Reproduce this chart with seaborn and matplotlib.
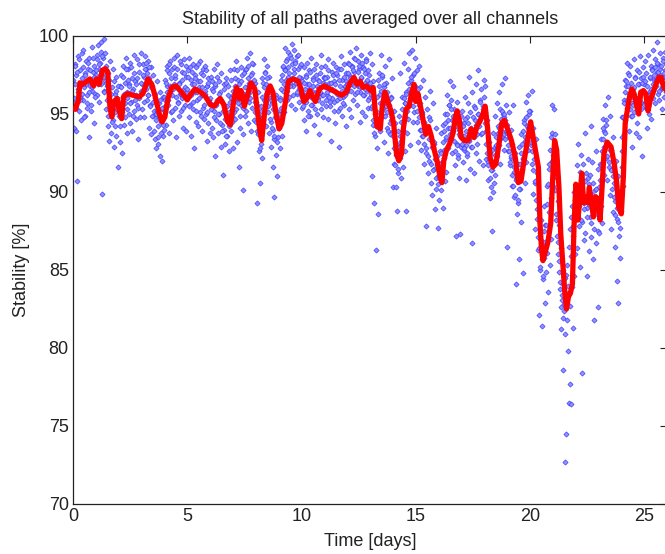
import numpy as np
import pandas as pd
import matplotlib
matplotlib.use("Agg")
import matplotlib.pyplot as plt
import seaborn as sns

# Scatter: stability readings per day (evenly sampled inside each day)
day_values = [
    "95.8 94.1 96.9 98.2 93.9 97.5 90.7 96.4 98.7 95.2 97.8 96.1 94.6 98.9 97.3 95.9 99.1 96.7 94.9 97.6 98.4 96.2 95.4 97.9 93.5 98.6 96.8 97.2 95.6 99.3 96.5 97.7 94.4 98.1 96.3 97.4",
    "97.5 98.8 96.2 99.4 97.9 95.8 98.3 96.9 99.6 89.9 97.4 98.6 96.5 99.8 97.1 95.3 98.1 96.8 94.2 97.6 93.3 96.1 98.4 95.5 93.8 96.7 97.9 94.6 92.9 96.3 95.1 97.4 93.6 96.0 91.6 95.4",
    "94.9 96.8 93.2 97.5 95.4 92.5 96.1 98.1 94.3 97.0 95.7 98.6 93.8 96.4 97.9 95.0 96.9 94.4 98.3 95.8 97.3 93.9 96.6 98.8 95.2 97.1 94.7 96.2 98.5 95.6 93.4 97.7 96.0 94.8 98.9 96.5",
    "96.9 95.3 98.2 97.4 94.8 98.7 96.6 97.9 95.9 98.4 96.2 94.1 97.3 95.6 98.0 93.7 96.8 94.9 97.5 95.2 93.4 96.3 92.8 95.0 97.1 94.2 93.1 95.7 92.3 96.4 94.5 92.0 95.3 93.6 96.1 94.0",
    "95.5 97.2 94.3 96.8 98.1 95.9 97.6 93.8 96.5 98.4 95.1 97.9 96.2 94.6 98.6 96.9 95.4 97.3 93.5 96.7 98.8 95.8 97.0 94.9 96.3 98.2 95.2 97.7 96.0 94.1 98.5 96.6 95.6 97.4 93.9 96.4",
    "96.1 97.8 94.8 98.6 95.6 97.2 93.6 96.9 98.2 95.3 92.8 97.5 96.4 94.5 98.0 95.9 97.1 94.2 96.7 98.4 95.1 97.6 93.9 96.2 95.4 97.9 94.7 96.5 98.1 95.0 93.3 96.8 94.4 97.3 95.7 93.8",
    "95.7 97.4 94.1 96.6 93.5 97.9 95.2 92.3 96.8 94.6 98.2 95.9 93.8 97.1 95.0 96.4 92.9 97.6 94.3 95.8 91.1 96.9 94.0 93.1 95.5 97.3 93.6 94.8 96.2 92.6 95.1 97.8 93.9 96.0 94.5 92.8",
    "96.2 97.9 94.7 96.8 98.4 95.3 93.2 97.2 95.9 91.6 96.5 94.1 98.0 95.6 97.5 93.7 90.1 96.3 94.9 97.8 95.2 98.6 96.7 94.4 97.3 95.8 98.9 96.0 93.9 97.6 95.4 98.2 96.9 94.6 97.0 95.1",
    "95.8 89.3 93.9 96.4 92.6 94.8 90.6 93.1 95.5 92.2 97.3 94.6 98.5 95.9 97.7 96.3 94.2 98.1 96.8 95.1 97.4 93.8 96.0 94.5 92.9 95.7 91.6 94.0 89.7 93.4 95.3 92.4 96.2 91.0 94.7 93.5",
    "94.1 96.0 92.8 95.4 97.2 93.6 96.5 98.0 95.1 97.8 99.2 96.7 98.5 95.9 99.0 97.4 96.1 98.8 97.0 95.6 99.5 98.2 96.8 97.6 99.1 95.3 98.4 97.1 96.3 98.7 97.9 95.8 96.6 98.1 97.3 96.2",
    "95.4 97.1 96.3 94.6 98.0 95.8 97.5 93.9 96.9 98.3 95.2 96.6 97.8 94.9 96.1 98.6 95.6 97.3 96.8 94.3 97.9 95.9 96.4 98.2 95.0 97.2 96.0 93.7 97.6 96.7 95.3 98.8 96.2 97.0 94.8 97.4",
    "96.9 98.1 95.5 97.4 96.2 94.7 98.5 97.0 95.8 96.6 93.3 97.7 96.0 98.3 95.2 97.1 96.5 94.4 98.0 95.9 97.5 96.3 92.9 97.9 95.4 96.8 98.7 94.9 97.2 96.1 95.6 98.2 96.7 94.2 97.6 96.4",
    "96.6 98.3 95.3 97.5 99.0 96.9 94.8 98.1 97.2 95.9 98.6 97.7 96.3 99.2 97.0 95.6 98.4 96.8 97.9 94.5 96.4 98.8 97.3 95.1 96.7 98.0 96.2 97.6 94.9 98.5 96.5 97.1 95.4 97.8 96.0 98.9",
    "96.8 95.4 98.2 91.0 94.3 97.1 89.3 93.6 96.0 86.3 92.8 95.1 88.6 94.7 97.6 93.9 96.3 98.8 95.7 97.4 94.9 96.7 93.2 98.1 95.5 97.0 94.1 96.4 92.5 95.9 98.5 93.7 96.1 94.6 97.3 90.3",
    "93.6 95.2 91.8 94.4 90.3 92.7 88.8 93.9 91.2 94.9 92.2 97.6 90.9 93.3 96.1 91.6 94.0 98.3 92.6 95.7 88.8 96.4 93.8 97.9 94.7 98.9 95.6 93.0 97.2 96.0 99.1 94.5 97.5 95.1 98.6 96.8",
    "96.2 94.5 97.8 93.2 95.6 98.1 94.0 96.7 92.7 95.0 93.6 97.2 91.8 94.4 96.1 92.5 87.8 93.9 95.3 91.2 94.8 92.0 96.5 90.6 93.4 89.8 92.9 95.7 91.5 93.1 88.9 94.1 90.2 92.3 87.7 91.0",
    "91.4 89.5 92.6 90.1 93.8 91.9 89.0 94.3 92.2 90.7 95.0 93.4 91.3 96.2 94.1 92.8 95.6 97.1 93.7 95.9 94.6 92.5 96.8 93.9 95.3 91.7 94.7 87.2 93.1 95.8 92.4 94.0 90.9 93.6 87.3 94.9",
    "93.6 95.2 91.9 94.4 92.7 96.1 93.0 90.8 94.8 92.3 95.7 93.4 97.4 91.5 94.1 92.9 96.4 86.7 93.8 95.5 91.2 94.6 92.5 96.9 93.1 95.0 97.8 94.2 92.0 95.9 93.7 96.6 94.9 91.7 95.3 97.2",
    "95.1 96.8 93.9 92.1 94.6 90.8 91.9 93.2 89.6 92.5 90.3 87.5 91.4 93.8 90.0 92.8 94.9 91.1 93.5 95.7 92.3 94.2 96.4 93.0 95.3 91.8 94.0 96.9 93.6 95.0 92.7 94.8 97.3 93.4 95.6 86.5",
    "94.3 92.6 95.1 93.5 91.7 94.0 92.2 90.4 93.1 95.6 91.3 89.7 92.5 84.1 90.9 88.6 91.8 89.3 92.9 85.7 90.2 93.7 88.1 91.5 84.8 92.1 94.6 90.6 93.3 95.8 91.9 94.2 96.2 92.7 95.0 93.6",
    "95.2 93.0 96.5 91.8 94.1 89.9 92.7 90.6 87.6 93.4 88.9 91.2 86.3 89.5 82.1 87.4 85.0 88.2 81.4 86.6 84.4 89.1 85.8 82.9 87.9 84.9 90.4 86.1 83.6 88.7 91.5 85.3 89.6 87.0 93.8 95.6",
    "90.4 92.8 95.3 93.7 91.5 88.2 90.9 86.8 89.4 85.6 87.9 84.2 81.2 86.4 83.1 78.6 85.0 82.4 72.7 80.9 84.7 74.5 81.8 79.8 83.5 76.5 82.7 77.7 85.9 76.4 83.9 81.3 87.2 84.6 89.5 86.0",
    "88.6 91.7 86.4 90.2 93.1 87.8 89.9 85.2 92.4 88.1 78.4 90.8 86.9 89.3 93.8 87.4 91.2 84.6 89.0 92.1 86.2 90.5 88.4 94.2 87.1 89.6 91.9 85.7 88.9 81.8 90.1 86.7 92.6 89.2 87.5 82.6",
    "90.3 87.4 91.8 89.1 93.4 88.0 92.6 94.7 91.1 93.9 95.6 92.2 94.3 90.8 96.1 93.0 91.6 94.9 89.8 92.7 87.6 91.4 93.5 88.7 90.6 86.5 89.4 92.0 84.3 88.3 91.0 82.9 87.2 89.9 85.8 88.8",
    "92.6 94.8 90.4 95.9 93.7 97.2 94.6 96.8 98.3 95.4 97.6 93.9 96.3 98.1 94.9 97.0 95.7 92.9 96.6 98.5 95.1 97.4 93.8 96.0 94.4 97.8 95.8 93.5 96.9 98.7 95.3 97.3 92.3 96.4 98.0 95.6",
    "96.9 98.4 95.4 97.6 94.1 96.2 98.8 95.0 97.3 96.5 98.1 94.7 97.9 96.0 99.1 97.2 95.7 98.5 96.8 97.7 99.6 96.3 98.2 95.9 97.5 98.9 96.6 97.0 95.3 98.6 97.4 96.1 99.0 97.8 96.4 98.3",
]

# second channel group: denser core readings per day
day_core = [
    "97.2 96.0 98.1 95.4 97.7 96.6 98.5 95.9 97.0 96.3 98.0 94.8 97.5 96.9 95.7 98.3 97.1 96.4 97.8 95.2 96.7 98.6 97.4 96.1",
    "97.8 98.5 96.9 98.2 97.3 99.0 98.7 97.6 96.4 98.9 97.0 95.9 96.6 94.9 97.2 95.6 96.3 94.5 95.8 97.1 94.2 96.5 95.3 96.8",
    "95.6 94.2 96.7 95.1 97.4 96.3 94.8 97.9 96.0 95.3 97.2 96.8 95.7 98.0 96.5 94.9 97.6 95.9 96.9 97.3 95.4 98.2 96.2 97.0",
    "96.4 97.5 95.8 97.9 98.3 96.9 97.6 96.2 98.0 95.5 96.7 94.9 95.8 93.9 96.0 94.6 95.2 93.5 94.8 95.9 93.8 95.4 94.3 96.1",
    "95.9 97.0 96.4 97.8 95.6 98.2 96.8 97.3 95.2 96.6 98.0 97.5 96.1 97.9 95.7 96.9 98.4 96.3 97.2 95.4 97.6 96.7 98.1 96.0",
    "96.6 97.4 95.5 98.0 96.2 97.7 95.8 96.9 97.3 95.2 96.4 98.2 96.0 97.1 94.9 96.7 97.5 95.6 96.3 97.8 95.1 96.8 97.0 95.9",
    "96.0 95.3 97.1 96.5 94.8 96.9 95.6 97.4 95.0 96.3 94.4 95.9 93.9 95.2 96.6 94.7 97.0 93.6 95.5 96.8 94.2 95.8 97.2 94.9",
    "96.5 95.1 97.3 96.0 97.8 95.7 96.9 94.9 97.1 96.3 95.4 97.6 96.7 95.9 97.9 96.2 98.1 97.0 96.4 97.5 98.3 96.8 97.2 95.8",
    "94.5 95.6 93.7 94.9 92.8 95.2 96.1 97.0 96.7 97.6 95.8 96.9 97.3 95.5 96.4 94.7 95.9 94.1 95.3 93.6 94.8 96.0 93.2 95.1",
    "95.0 95.9 96.6 97.5 98.1 96.9 97.8 98.4 97.2 96.5 98.0 97.6 96.8 98.6 97.3 96.2 97.9 98.3 97.0 96.4 98.8 97.4 96.7 98.2",
    "96.1 95.5 97.0 96.6 95.8 97.4 96.3 94.9 96.9 97.7 95.6 96.5 97.2 96.0 95.3 97.5 96.8 95.9 97.1 96.4 98.0 95.7 96.2 97.3",
    "96.7 97.3 95.9 96.4 97.8 96.1 95.5 97.0 96.6 97.5 95.8 96.9 97.6 96.3 95.2 97.2 96.0 97.9 96.5 95.7 97.4 96.8 96.2 97.1",
    "96.9 97.6 98.2 97.3 96.5 98.0 97.8 96.8 98.5 97.1 96.4 97.7 98.1 96.7 97.4 98.3 96.2 97.9 97.0 96.6 98.4 97.2 95.9 97.5",
    "97.0 96.3 95.5 94.6 93.8 95.0 94.2 96.1 97.2 96.8 95.7 96.5 97.5 95.3 96.9 95.8 94.9 96.2 95.1 93.9 95.6 94.4 96.0 94.8",
    "93.9 92.8 91.7 92.4 93.1 91.5 92.9 93.6 94.5 95.3 94.0 96.0 95.7 94.8 96.3 95.2 97.0 96.6 95.9 97.4 96.9 95.5 97.6 96.2",
    "96.0 95.2 96.6 94.8 95.7 94.0 95.1 93.6 94.5 93.1 94.2 92.8 93.9 92.3 93.4 94.6 91.8 92.9 91.4 93.2 92.1 90.9 91.7 90.5",
    "90.9 91.8 92.5 91.2 93.2 92.7 93.9 94.4 93.5 95.0 94.6 95.6 94.1 95.3 93.8 94.9 93.3 92.6 94.2 93.0 92.2 93.7 94.5 92.9",
    "93.1 94.2 92.8 93.6 94.7 93.9 92.5 94.4 93.3 95.1 94.0 92.9 94.8 93.5 95.4 94.3 93.7 95.0 94.6 95.8 94.9 93.8 95.5 96.1",
    "95.2 94.4 93.1 92.5 91.7 92.2 90.9 91.4 92.7 91.9 90.6 92.4 93.0 92.8 93.8 94.1 93.4 94.7 95.2 94.3 93.7 95.0 94.6 93.9",
    "93.8 93.0 92.6 91.9 92.3 91.1 90.4 91.6 89.8 90.8 91.3 89.5 90.2 91.8 92.5 93.1 92.2 93.9 94.4 93.5 94.8 93.3 94.1 95.2",
    "94.0 93.2 92.6 91.4 92.1 90.7 89.5 88.3 87.1 86.4 85.2 86.9 85.7 84.6 86.2 87.5 86.8 87.9 89.2 90.5 91.8 92.7 93.5 92.0",
    "92.4 91.0 90.1 88.6 87.2 86.0 84.9 83.8 82.6 83.4 84.1 81.9 82.8 84.5 83.2 85.3 84.0 86.5 87.6 88.4 89.1 87.8 90.0 88.9",
    "89.8 88.7 90.4 89.1 91.3 88.2 90.0 89.4 91.8 88.9 90.7 89.6 88.4 90.9 89.2 91.1 88.0 89.9 90.6 87.6 89.3 90.2 88.6 91.5",
    "89.2 90.8 91.7 92.6 93.4 94.1 92.9 93.8 94.6 92.3 93.1 91.9 92.7 91.4 90.2 91.0 89.7 88.5 90.4 89.0 88.1 89.5 87.7 89.8",
    "91.6 93.5 94.8 95.7 96.4 97.1 95.9 96.8 97.5 95.3 96.1 94.9 95.6 96.7 97.3 96.0 95.4 96.9 97.7 96.3 95.8 97.0 96.5 97.4",
    "96.4 97.1 95.8 96.8 95.5 96.2 97.4 96.6 97.8 96.9 97.5 98.0 97.2 98.3 97.7 96.5 97.9 98.1 97.3 96.7 98.4 97.6 97.0 98.2",
]

# Red line: running average
avg_time = [0.1, 0.24, 0.3, 0.44, 0.6, 0.74, 0.9, 1.03, 1.15, 1.28, 1.42, 1.52, 1.62, 1.7, 1.79,
            1.93, 2.04, 2.13, 2.21, 2.38, 2.64, 2.89, 3.06, 3.28, 3.45, 3.6, 3.78, 3.9, 4.02, 4.16,
            4.32, 4.5, 4.75, 5.0, 5.17, 5.34, 5.59, 5.81, 6.01, 6.18, 6.44, 6.6, 6.77, 6.89, 7.03,
            7.16, 7.28, 7.36, 7.5, 7.62, 7.79, 7.96, 8.07, 8.18, 8.26, 8.38, 8.51, 8.63, 8.75, 8.89,
            9.02, 9.14, 9.31, 9.43, 9.65, 9.86, 9.98, 10.1, 10.24, 10.37, 10.49, 10.61, 10.78, 11.0,
            11.25, 11.5, 11.76, 11.96, 12.13, 12.3, 12.43, 12.57, 12.69, 12.85, 13.02, 13.14, 13.24,
            13.31, 13.45, 13.53, 13.65, 13.78, 13.92, 14.04, 14.16, 14.26, 14.38, 14.46, 14.58,
            14.71, 14.83, 14.93, 15.0, 15.1, 15.22, 15.34, 15.44, 15.56, 15.68, 15.81, 15.95, 16.06,
            16.15, 16.23, 16.35, 16.49, 16.62, 16.74, 16.82, 16.91, 16.99, 17.13, 17.3, 17.42, 17.55,
            17.68, 17.8, 17.92, 18.04, 18.14, 18.26, 18.38, 18.51, 18.65, 18.76, 18.88, 19.02, 19.19,
            19.36, 19.49, 19.61, 19.7, 19.86, 20.03, 20.12, 20.24, 20.37, 20.44, 20.51, 20.57, 20.68,
            20.79, 20.91, 21.0, 21.08, 21.17, 21.27, 21.35, 21.44, 21.52, 21.6, 21.69, 21.77, 21.86,
            21.93, 22.01, 22.1, 22.18, 22.27, 22.35, 22.45, 22.54, 22.6, 22.78, 22.88, 23.0, 23.07,
            23.15, 23.24, 23.38, 23.55, 23.69, 23.79, 23.89, 24.0, 24.09, 24.17, 24.26, 24.36, 24.46,
            24.56, 24.68, 24.76, 24.85, 24.97, 25.07, 25.17, 25.27, 25.4, 25.52, 25.64, 25.74, 25.86,
            25.98]
avg_value = [95.3, 95.9, 97.0, 96.9, 97.1, 97.25, 96.8, 97.25, 96.9, 97.8, 97.9, 97.7, 95.4, 94.8, 95.8,
             96.0, 95.1, 94.7, 96.1, 96.3, 96.2, 96.1, 96.3, 97.25, 96.9, 96.1, 95.0, 94.5, 94.8, 96.0,
             96.7, 96.8, 96.4, 95.9, 96.3, 96.6, 96.4, 96.1, 95.6, 95.5, 96.0, 95.6, 94.5, 94.3, 95.8,
             96.7, 96.0, 96.5, 95.5, 96.1, 97.0, 96.6, 95.2, 93.9, 93.3, 95.0, 96.4, 96.8, 96.4, 95.0,
             94.05, 94.4, 95.9, 97.1, 97.25, 97.1, 96.6, 95.8, 96.0, 96.5, 96.1, 95.8, 96.6, 96.8,
             96.6, 96.4, 96.2, 96.4, 97.0, 97.35, 96.9, 97.1, 96.7, 96.8, 96.5, 96.7, 95.0,
             94.2, 94.05, 95.4, 96.4, 95.8, 95.2, 94.3, 92.45, 92.0, 92.45, 94.05, 95.3,
             95.5, 96.4, 96.9, 95.8, 96.3, 95.4, 94.5, 93.7, 94.2, 93.6, 92.7, 91.9, 91.0,
             90.6, 92.0, 92.7, 93.1, 93.7, 94.8, 95.2, 94.6, 93.5, 93.3, 93.3, 94.05, 93.5,
             94.2, 94.5, 94.9, 95.5, 94.2, 92.2, 91.6, 91.8, 93.1, 94.4, 94.6, 94.05, 93.3,
             92.2, 90.6, 90.7, 91.6, 93.0, 94.5, 93.7, 92.7, 91.6, 88.0, 86.3, 85.6, 86.2,
             86.8, 88.0, 91.0, 93.3, 92.7, 90.3, 87.3, 85.4, 83.7, 82.5, 83.3, 83.5, 84.1,
             87.8, 90.5, 88.2, 89.5, 91.2, 89.3, 89.7, 89.3, 90.3, 88.4, 89.7, 89.5, 88.2,
             90.1, 92.45, 93.2, 92.9, 91.8, 90.7, 89.0, 88.6, 91.0, 94.4, 95.2, 96.1, 96.6,
             96.3, 95.5, 95.0, 96.4, 96.5, 96.3, 95.2, 95.9, 96.4, 96.9, 97.35, 97.35, 96.7,
             96.5]


def day_frame(groups, offset):
    rows = []
    for d, s in enumerate(groups):
        vals = [float(v) for v in s.split()]
        n = len(vals)
        for k, v in enumerate(vals):
            rows.append({"time": d + (k + offset) / n, "stability": v})
    return pd.DataFrame(rows)


pts = pd.concat([day_frame(day_values, 0.5), day_frame(day_core, 0.25)], ignore_index=True)
avg = pd.DataFrame({"time": avg_time, "stability": avg_value})

sns.set_style("white")
plt.rcParams["font.family"] = ["Liberation Sans", "DejaVu Sans"]

fig = plt.figure(figsize=(6.65, 5.54), dpi=100)
ax = fig.add_axes([73 / 665, 50 / 554, 594 / 665, 468 / 554])

sns.scatterplot(data=pts, x="time", y="stability", ax=ax, marker="D", s=7,
                color="#9090ff", edgecolor="#3535ff", linewidth=0.45, zorder=2)
sns.lineplot(data=avg, x="time", y="stability", ax=ax, color="#ff0000",
             linewidth=3.8, zorder=3)

ax.set_xlim(0, 26)
ax.set_ylim(70, 100)
ax.set_xticks([0, 5, 10, 15, 20, 25])
ax.set_yticks([70, 75, 80, 85, 90, 95, 100])
ax.tick_params(direction="in", length=5, width=0.8, top=True, right=True,
               labelsize=13, colors="#222222", pad=3)
for sp in ax.spines.values():
    sp.set_color("#222222")
    sp.set_linewidth(0.9)

ax.set_title("Stability of all paths averaged over all channels", fontsize=13, color="#222222", pad=9)
ax.set_xlabel("Time [days]", fontsize=13, color="#222222", labelpad=6)
ax.set_ylabel("Stability [%]", fontsize=13, color="#222222", labelpad=6)

fig.savefig("out.png", dpi=100)
